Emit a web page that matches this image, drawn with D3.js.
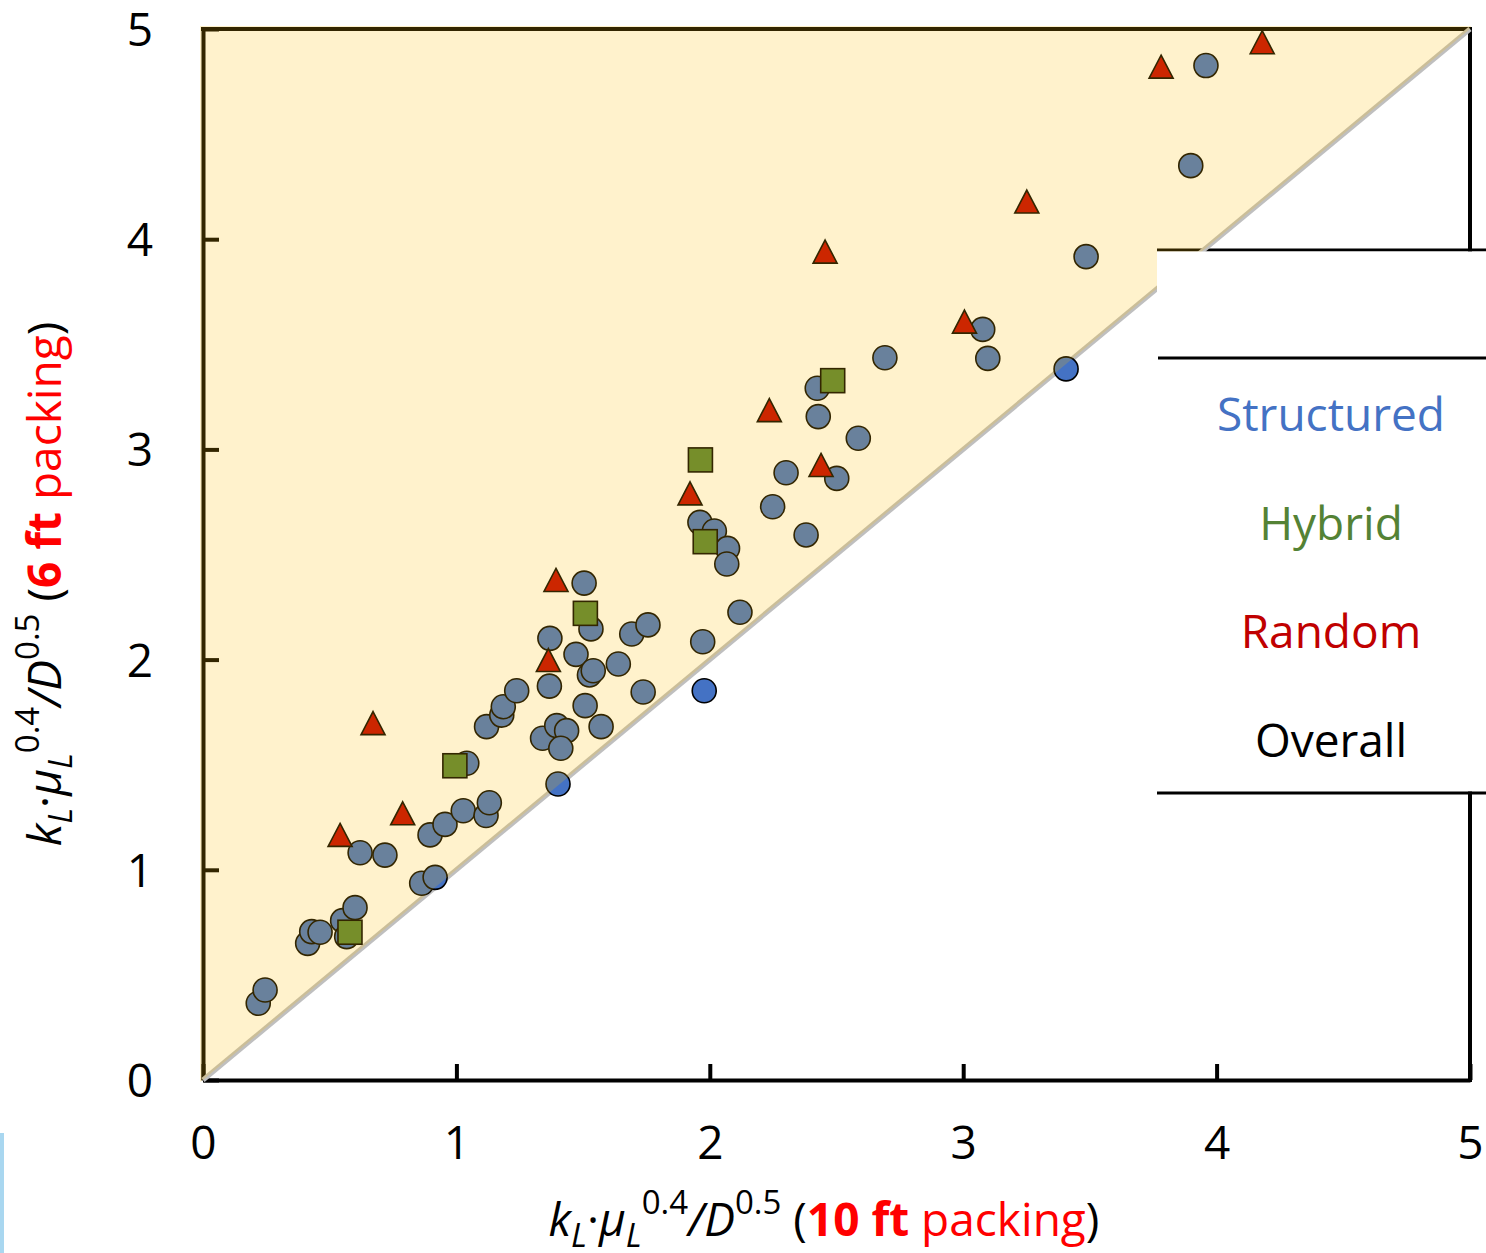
<!DOCTYPE html>
<html><head><meta charset="utf-8">
<script src="https://cdn.jsdelivr.net/npm/d3@7"></script>
<style>html,body{margin:0;padding:0;background:#fff;} svg{display:block;}</style>
</head><body><svg id="c" width="1486" height="1253"></svg>
<script>
// ---- data ----
const structuredX = [0.218,0.245,0.413,0.429,0.462,0.551,0.600,0.567,0.620,0.718,0.863,0.916,0.896,0.955,1.027,1.117,1.130,1.041,1.119,1.179,1.185,1.238,1.367,1.340,1.396,1.435,1.412,1.401,1.508,1.571,1.369,1.472,1.525,1.540,1.504,1.531,1.639,1.692,1.756,1.737,1.972,1.978,1.961,2.018,2.070,2.067,2.119,2.248,2.301,2.380,2.424,2.428,2.501,2.586,2.691,3.077,3.097,3.406,3.485,3.898,3.958];
const structuredY = [0.365,0.428,0.650,0.706,0.703,0.758,0.820,0.682,1.081,1.070,0.936,0.964,1.166,1.216,1.281,1.258,1.319,1.507,1.681,1.736,1.776,1.852,1.874,1.626,1.686,1.662,1.578,1.408,1.781,1.681,2.101,2.025,1.927,1.947,2.364,2.146,1.979,2.122,2.165,1.846,2.085,1.852,2.653,2.612,2.529,2.455,2.225,2.727,2.889,2.593,3.291,3.156,2.862,3.053,3.436,3.571,3.433,3.383,3.917,4.350,4.826];
const hybridX = [0.580,0.994,1.509,1.982,1.963,2.485];
const hybridY = [0.703,1.495,2.220,2.561,2.950,3.327];
const randomX = [0.541,0.671,0.788,1.363,1.393,1.922,2.235,2.439,2.455,3.005,3.251,3.781,4.180];
const randomY = [1.166,1.698,1.269,1.998,2.379,2.791,3.187,2.926,3.941,3.608,4.179,4.821,4.937];
const tickValues = [0,1,2,3,4,5];
const legendLabels = ["Structured","Hybrid","Random","Overall"];
const legendColors = ["#4472C4","#548235","#C00000","#000000"];

// ---- chart ----
const svg = d3.select("#c");
const FONT = "'Open Sans', 'Noto Sans', sans-serif";
const x = d3.scaleLinear().domain([0,5]).range([203,1470]);
const y = d3.scaleLinear().domain([0,5]).range([1080,29]);

const gAxes = svg.append("g");
// left axis
const ya = d3.axisLeft(y).tickValues(tickValues).tickSizeInner(-16).tickSizeOuter(0).tickPadding(50).tickFormat(d3.format("d"));
const gy = gAxes.append("g").attr("transform", `translate(${x(0)},0)`).call(ya);
gy.select(".domain").attr("stroke","#000").attr("stroke-width",4);
gy.selectAll(".tick line").attr("stroke","#000").attr("stroke-width",4);
gy.selectAll(".tick text").attr("font-family",FONT).attr("font-size",46).attr("fill","#000").attr("dy","0.36em").attr("x",-50);
// bottom axis
const xa = d3.axisBottom(x).tickValues(tickValues).tickSizeInner(-16).tickSizeOuter(0).tickPadding(40).tickFormat(d3.format("d"));
const gx = gAxes.append("g").attr("transform", `translate(0,${y(0)})`).call(xa);
gx.select(".domain").attr("stroke","#000").attr("stroke-width",4);
gx.selectAll(".tick line").attr("stroke","#000").attr("stroke-width",4);
gx.selectAll(".tick text").attr("font-family",FONT).attr("font-size",46).attr("fill","#000").attr("dy","0.71em").attr("y",46);
// top border and right axis
gAxes.append("line").attr("x1",x(0)-2).attr("x2",x(5)+2).attr("y1",y(5)).attr("y2",y(5)).attr("stroke","#000").attr("stroke-width",4);
gAxes.append("line").attr("x1",x(5)).attr("x2",x(5)).attr("y1",y(5)).attr("y2",1082).attr("stroke","#000").attr("stroke-width",4);
// legend box top line (under the overlay)
gAxes.append("line").attr("x1",1157).attr("x2",1486).attr("y1",250).attr("y2",250).attr("stroke","#000").attr("stroke-width",3);

// diagonal 1:1 line
svg.append("line").attr("x1",x(0)).attr("y1",y(0)).attr("x2",x(5)).attr("y2",y(5))
  .attr("stroke","#BFBFBF").attr("stroke-width",5);

// markers
const circles = structuredX.map((v,i)=>({x:v,y:structuredY[i]}));
const squares = hybridX.map((v,i)=>({x:v,y:hybridY[i]}));
const tris = randomX.map((v,i)=>({x:v,y:randomY[i]}));
svg.append("g").selectAll("circle").data(circles).join("circle")
  .attr("cx",d=>x(d.x)).attr("cy",d=>y(d.y)).attr("r",12)
  .attr("fill","#4472C4").attr("stroke","#000").attr("stroke-width",1.6);
svg.append("g").selectAll("rect").data(squares).join("rect")
  .attr("x",d=>x(d.x)-12).attr("y",d=>y(d.y)-12).attr("width",24).attr("height",24)
  .attr("fill","#548235").attr("stroke","#000").attr("stroke-width",1.6);
svg.append("g").selectAll("path").data(tris).join("path")
  .attr("transform",d=>`translate(${x(d.x)},${y(d.y)})`)
  .attr("d","M0,-11.5L12,11.5L-12,11.5Z")
  .attr("fill","#C00000").attr("stroke","#000").attr("stroke-width",1.6).attr("stroke-linejoin","miter");

// translucent gold overlay over the region above the 1:1 line
const poly = [[x(0)-3,y(0)+2],[x(0)-3,y(5)-3],[x(5)+1,y(5)-3],[x(5),y(5)],[x(0),y(0)]];
svg.append("path").attr("d","M"+poly.map(p=>p.join(",")).join("L")+"Z")
  .attr("fill","#FFC000").attr("fill-opacity",0.2);

// legend box (white panel)
svg.append("rect").attr("x",1157).attr("y",251.5).attr("width",329).attr("height",540).attr("fill","#fff");
svg.append("line").attr("x1",1158).attr("x2",1486).attr("y1",358).attr("y2",358).attr("stroke","#000").attr("stroke-width",3);
svg.append("line").attr("x1",1157).attr("x2",1486).attr("y1",793).attr("y2",793).attr("stroke","#000").attr("stroke-width",3);
svg.append("line").attr("x1",x(5)).attr("x2",x(5)).attr("y1",793).attr("y2",1082).attr("stroke","#000").attr("stroke-width",4);
const legY = [431,540,648,757];
svg.append("g").selectAll("text").data(legendLabels).join("text")
  .attr("x",1331).attr("y",(d,i)=>legY[i]).attr("text-anchor","middle")
  .attr("font-family",FONT).attr("font-size",46).attr("fill",(d,i)=>legendColors[i]).text(d=>d);

// axis titles
function title(g, big) {
  const t = g.append("text").attr("font-family",FONT).attr("font-size",46).attr("fill","#000").attr("text-anchor","middle");
  t.append("tspan").attr("font-style","italic").text("k");
  t.append("tspan").attr("font-style","italic").attr("font-size",33).attr("dy",11).text("L");
  t.append("tspan").attr("dy",-11).text("·");
  t.append("tspan").attr("font-style","italic").text("μ");
  t.append("tspan").attr("font-style","italic").attr("font-size",33).attr("dy",11).text("L");
  t.append("tspan").attr("font-size",33).attr("dy",-33).text("0.4");
  t.append("tspan").attr("font-style","italic").attr("dy",22).text("/");
  t.append("tspan").attr("font-style","italic").text("D");
  t.append("tspan").attr("font-size",33).attr("dy",-22).text("0.5");
  t.append("tspan").attr("dy",22).text(" (");
  t.append("tspan").attr("font-weight","bold").attr("fill","#FF0000").text(big);
  t.append("tspan").attr("fill","#FF0000").text(" packing");
  t.append("tspan").text(")");
  return t;
}
const gxT = svg.append("g").attr("transform","translate(824,1236)");
title(gxT, "10 ft");
const gyT = svg.append("g").attr("transform","translate(61,584) rotate(-90)");
title(gyT, "6 ft");

// small edge artifact at bottom-left
svg.append("rect").attr("x",0).attr("y",1133).attr("width",4).attr("height",120).attr("fill","#a9d7f0");
</script>
</body></html>
